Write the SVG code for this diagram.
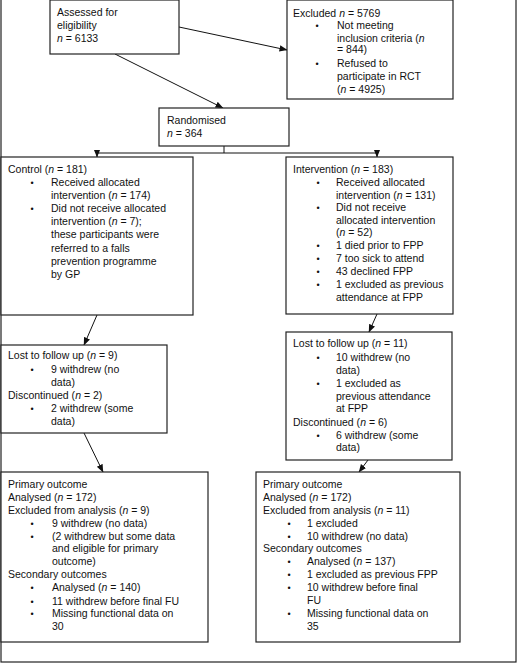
<svg xmlns="http://www.w3.org/2000/svg" width="517" height="664" viewBox="0 0 517 664">
<style>
  .box{fill:#fff;stroke:#222;stroke-width:1.2}
  .frame{fill:none;stroke:#222;stroke-width:1.2}
  text{font-family:"Liberation Sans",Arial,sans-serif;font-size:10.5px;fill:#111}
  text.b{text-anchor:middle;font-size:9px}
  .c{fill:none;stroke:#111;stroke-width:1}
  .i{font-style:italic}
</style>
<defs>
  <marker id="ah" markerUnits="userSpaceOnUse" markerWidth="8" markerHeight="8" viewBox="0 0 8 8" refX="7.5" refY="4" orient="auto">
    <path d="M0,0.8 L8,4 L0,7.2 Z" fill="#111"/>
  </marker>
</defs>
<rect class="frame" x="1" y="-3" width="515" height="665"/>
<g id="connectors">
  <line class="c" x1="179" y1="27" x2="287" y2="50" marker-end="url(#ah)"/>
  <line class="c" x1="115" y1="54" x2="223" y2="108" marker-end="url(#ah)"/>
  <path class="c" d="M224,146 V153 H97 V157" marker-end="url(#ah)"/>
  <path class="c" d="M224,153 H377 V157" marker-end="url(#ah)"/>
  <line class="c" x1="97" y1="315" x2="84" y2="345" marker-end="url(#ah)"/>
  <line class="c" x1="84" y1="433" x2="103" y2="472" marker-end="url(#ah)"/>
  <line class="c" x1="377" y1="314" x2="369" y2="332" marker-end="url(#ah)"/>
  <line class="c" x1="368" y1="460" x2="359" y2="472" marker-end="url(#ah)"/>
</g>
<g id="assessed">
  <rect class="box" x="50" y="0" width="129" height="54"/>
  <text x="57" y="16">Assessed for</text>
  <text x="57" y="29">eligibility</text>
  <text x="57" y="41.5"><tspan class="i">n</tspan> = 6133</text>
</g>
<g id="excluded">
  <rect class="box" x="287" y="0" width="166" height="99"/>
  <text x="293" y="17">Excluded <tspan class="i">n</tspan> = 5769</text>
  <text class="b" x="317" y="29">•</text>
  <text x="337" y="29">Not meeting</text>
  <text x="337" y="41.5">inclusion criteria (<tspan class="i">n</tspan></text>
  <text x="337" y="53">= 844)</text>
  <text class="b" x="317" y="66.5">•</text>
  <text x="337" y="66.5">Refused to</text>
  <text x="337" y="80">participate in RCT</text>
  <text x="337" y="93">(<tspan class="i">n</tspan> = 4925)</text>
</g>
<g id="randomised">
  <rect class="box" x="159" y="108" width="130" height="38"/>
  <text x="167" y="124">Randomised</text>
  <text x="167" y="136.5"><tspan class="i">n</tspan> = 364</text>
</g>
<g id="control">
  <rect class="box" x="1" y="157" width="192" height="158"/>
  <text x="8" y="173">Control (<tspan class="i">n</tspan> = 181)</text>
  <text class="b" x="32" y="186">•</text>
  <text x="51" y="186">Received allocated</text>
  <text x="51" y="198.5">intervention (<tspan class="i">n</tspan> = 174)</text>
  <text class="b" x="32" y="211.5">•</text>
  <text x="51" y="211.5">Did not receive allocated</text>
  <text x="51" y="225">intervention (<tspan class="i">n</tspan> = 7);</text>
  <text x="51" y="238">these participants were</text>
  <text x="51" y="251.5">referred to a falls</text>
  <text x="51" y="265">prevention programme</text>
  <text x="51" y="278">by GP</text>
</g>
<g id="intervention">
  <rect class="box" x="286" y="157" width="167" height="157"/>
  <text x="293" y="173">Intervention (<tspan class="i">n</tspan> = 183)</text>
  <text class="b" x="318" y="186">•</text>
  <text x="336" y="186">Received allocated</text>
  <text x="336" y="198.5">intervention (<tspan class="i">n</tspan> = 131)</text>
  <text class="b" x="318" y="211">•</text>
  <text x="336" y="211">Did not receive</text>
  <text x="336" y="224">allocated intervention</text>
  <text x="336" y="236">(<tspan class="i">n</tspan> = 52)</text>
  <text class="b" x="318" y="249">•</text>
  <text x="336" y="249">1 died prior to FPP</text>
  <text class="b" x="318" y="262">•</text>
  <text x="336" y="262">7 too sick to attend</text>
  <text class="b" x="318" y="275">•</text>
  <text x="336" y="275">43 declined FPP</text>
  <text class="b" x="318" y="288">•</text>
  <text x="336" y="288">1 excluded as previous</text>
  <text x="336" y="300.5">attendance at FPP</text>
</g>
<g id="lost-control">
  <rect class="box" x="1" y="345" width="166" height="88"/>
  <text x="8" y="359">Lost to follow up (<tspan class="i">n</tspan> = 9)</text>
  <text class="b" x="32" y="373">•</text>
  <text x="51" y="373">9 withdrew (no</text>
  <text x="51" y="386">data)</text>
  <text x="8" y="399">Discontinued (<tspan class="i">n</tspan> = 2)</text>
  <text class="b" x="32" y="411.5">•</text>
  <text x="51" y="411.5">2 withdrew (some</text>
  <text x="51" y="425">data)</text>
</g>
<g id="lost-intervention">
  <rect class="box" x="286" y="332" width="166" height="128"/>
  <text x="293" y="347">Lost to follow up (<tspan class="i">n</tspan> = 11)</text>
  <text class="b" x="318" y="361">•</text>
  <text x="336" y="361">10 withdrew (no</text>
  <text x="336" y="374">data)</text>
  <text class="b" x="318" y="387">•</text>
  <text x="336" y="387">1 excluded as</text>
  <text x="336" y="399.5">previous attendance</text>
  <text x="336" y="412">at FPP</text>
  <text x="293" y="425.5">Discontinued (<tspan class="i">n</tspan> = 6)</text>
  <text class="b" x="318" y="438.5">•</text>
  <text x="336" y="438.5">6 withdrew (some</text>
  <text x="336" y="451">data)</text>
</g>
<g id="outcome-control">
  <rect class="box" x="1" y="472" width="207" height="170"/>
  <text x="8" y="488">Primary outcome</text>
  <text x="8" y="500.7">Analysed (<tspan class="i">n</tspan> = 172)</text>
  <text x="8" y="514">Excluded from analysis (<tspan class="i">n</tspan> = 9)</text>
  <text class="b" x="32" y="526.7">•</text>
  <text x="52" y="526.7">9 withdrew (no data)</text>
  <text class="b" x="32" y="540">•</text>
  <text x="52" y="540">(2 withdrew but some data</text>
  <text x="52" y="552.3">and eligible for primary</text>
  <text x="52" y="565">outcome)</text>
  <text x="8" y="578">Secondary outcomes</text>
  <text class="b" x="32" y="591.3">•</text>
  <text x="52" y="591.3">Analysed (<tspan class="i">n</tspan> = 140)</text>
  <text class="b" x="32" y="604.7">•</text>
  <text x="52" y="604.7">11 withdrew before final FU</text>
  <text class="b" x="32" y="617.3">•</text>
  <text x="52" y="617.3">Missing functional data on</text>
  <text x="52" y="629.7">30</text>
</g>
<g id="outcome-intervention">
  <rect class="box" x="256" y="472" width="204" height="170"/>
  <text x="263" y="488">Primary outcome</text>
  <text x="263" y="500.7">Analysed (<tspan class="i">n</tspan> = 172)</text>
  <text x="263" y="513.5">Excluded from analysis (<tspan class="i">n</tspan> = 11)</text>
  <text class="b" x="289" y="526.7">•</text>
  <text x="307" y="526.7">1 excluded</text>
  <text class="b" x="289" y="540">•</text>
  <text x="307" y="540">10 withdrew (no data)</text>
  <text x="263" y="552.3">Secondary outcomes</text>
  <text class="b" x="289" y="565">•</text>
  <text x="307" y="565">Analysed (<tspan class="i">n</tspan> = 137)</text>
  <text class="b" x="289" y="578">•</text>
  <text x="307" y="578">1 excluded as previous FPP</text>
  <text class="b" x="289" y="591.3">•</text>
  <text x="307" y="591.3">10 withdrew before final</text>
  <text x="307" y="604">FU</text>
  <text class="b" x="289" y="617.3">•</text>
  <text x="307" y="617.3">Missing functional data on</text>
  <text x="307" y="629.7">35</text>
</g>
</svg>
